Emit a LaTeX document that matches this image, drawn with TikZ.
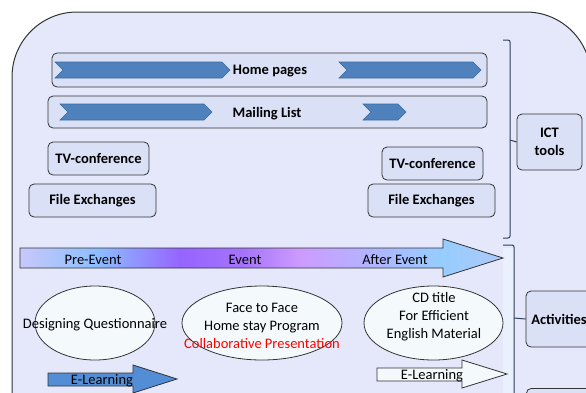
\documentclass[tikz,border=0pt]{standalone}
\usepackage{fontspec}
\setmainfont{Carlito}
\usetikzlibrary{shapes.geometric}
\definecolor{bg}{HTML}{E4E8FA}
\definecolor{boxfill}{HTML}{DAE1F7}
\definecolor{edge}{HTML}{333333}
\definecolor{chevfill}{HTML}{4F81BD}
\definecolor{chevedge}{HTML}{3C6A9E}
\definecolor{ellfill}{HTML}{F4FAFC}
\definecolor{brk}{HTML}{2E3F5C}
\definecolor{elblue}{HTML}{538DD5}
\definecolor{strip}{HTML}{EAF0FC}
\definecolor{c0}{RGB}{200,200,250}
\definecolor{c1}{RGB}{140,190,255}
\definecolor{c2}{RGB}{150,100,255}
\definecolor{c3}{RGB}{165,115,250}
\definecolor{c4}{RGB}{205,155,255}
\definecolor{c5}{RGB}{150,205,255}
\definecolor{c6}{RGB}{175,200,250}
\pgfdeclarehorizontalshading{evt}{100bp}{color(0bp)=(c0); color(25bp)=(c0); color(33bp)=(c1); color(41.6bp)=(c2); color(48bp)=(c3); color(54bp)=(c4); color(68.5bp)=(c5); color(75bp)=(c6); color(100bp)=(c6)}
\newcommand\chevron[3]{%
  \draw[chev] (#1,#3-8) -- (#2-8,#3-8) -- (#2,#3) -- (#2-8,#3+8) -- (#1,#3+8) -- (#1+8,#3) -- cycle;}
\begin{document}
\begin{tikzpicture}[x=1pt,y=-1pt,
  font=\fontsize{14.5}{18}\selectfont,
  box/.style={draw=edge, fill=boxfill, rounded corners=5pt, line width=0.8pt, inner sep=0pt,
    font=\fontsize{14.5}{18}\selectfont\bfseries, align=center},
  ell/.style={ellipse, draw=edge, fill=ellfill, line width=0.8pt, inner sep=0pt},
  chev/.style={fill=chevfill, draw=chevedge, line width=0.6pt},
  lbl/.style={inner sep=0pt, align=center},
  brkline/.style={draw=brk, line width=1pt, rounded corners=2pt}]
\useasboundingbox (0,0) rectangle (586,392);
\clip (0,0) rectangle (586,392);
\draw[draw=edge, fill=bg, line width=1pt, rounded corners=65pt] (12,12) rectangle (591,470);
\fill[strip] (503,248) rectangle (514,400);

% ICT tools group
\node[box, minimum width=435, minimum height=34] (home) at (269.5,70) {};
\chevron{55}{230}{70}
\chevron{339}{481}{70}
\node[lbl, font=\fontsize{14.5}{18}\selectfont\bfseries] (homet) at (270,71.5) {Home pages};

\node[box, minimum width=439, minimum height=32] (mail) at (267.5,112) {};
\chevron{60}{212}{112}
\chevron{363}{406}{112}
\node[lbl, font=\fontsize{14.5}{18}\selectfont\bfseries] (mailt) at (267,113.5) {Mailing List};

\node[box, minimum width=101, minimum height=33] (tv1) at (98.5,158.5) {TV-conference};
\node[box, minimum width=127, minimum height=33] (fe1) at (92.5,200.5) {File Exchanges};
\node[box, minimum width=101, minimum height=33] (tv2) at (432.5,163.5) {TV-conference};
\node[box, minimum width=127, minimum height=33] (fe2) at (431.5,200.5) {File Exchanges};

\node[box, minimum width=65, minimum height=56] (ict) at (549.5,142) {ICT\\tools};
\draw[brkline] (503,40) -- (510,40) -- (510,238) -- (503,238);
\draw[brkline] (510,140) -- (ict.west);

% Activities group
\shade[shading=evt, draw=edge, line width=0.8pt] (20,248) -- (443,248) -- (443,239) -- (503,258) -- (443,277) -- (443,268) -- (20,268) -- cycle;
\node[lbl] (pre) at (93,260) {Pre-Event};
\node[lbl] (ev) at (245,260) {Event};
\node[lbl] (after) at (395,260) {After Event};

\node[ell, minimum width=120, minimum height=74] (e1) at (95,323) {};
\node[lbl] (e1t) at (95,325) {Designing Questionnaire};
\node[ell, minimum width=160, minimum height=74] (e2) at (262,323) {};
\node[lbl] (e2t) at (262,326) {Face to Face\\Home stay Program\\\textcolor{red}{Collaborative Presentation}};
\node[ell, minimum width=139, minimum height=74] (e3) at (433.5,323) {};
\node[lbl] (e3t) at (434,317) {CD title\\For Efficient\\English Material};

\draw[fill=elblue, draw=edge, line width=0.8pt] (48,373) -- (133,373) -- (133,365) -- (177,379) -- (133,393) -- (133,386) -- (48,386) -- cycle;
\node[lbl] (el1) at (102,381) {E-Learning};
\draw[fill=ellfill, draw=edge, line width=0.8pt] (377,368) -- (462,368) -- (462,360) -- (507,374) -- (462,388) -- (462,381) -- (377,381) -- cycle;
\node[lbl] (el2) at (432,376) {E-Learning};

\node[box, minimum width=66, minimum height=56] (act) at (559,319) {Activities};
\node[box, minimum width=66, minimum height=44, anchor=north west] (next) at (526,388) {};
\draw[brkline] (503,245) -- (514,245) -- (514,400);
\draw[brkline] (514,318) -- (act.west);
\end{tikzpicture}
\end{document}
